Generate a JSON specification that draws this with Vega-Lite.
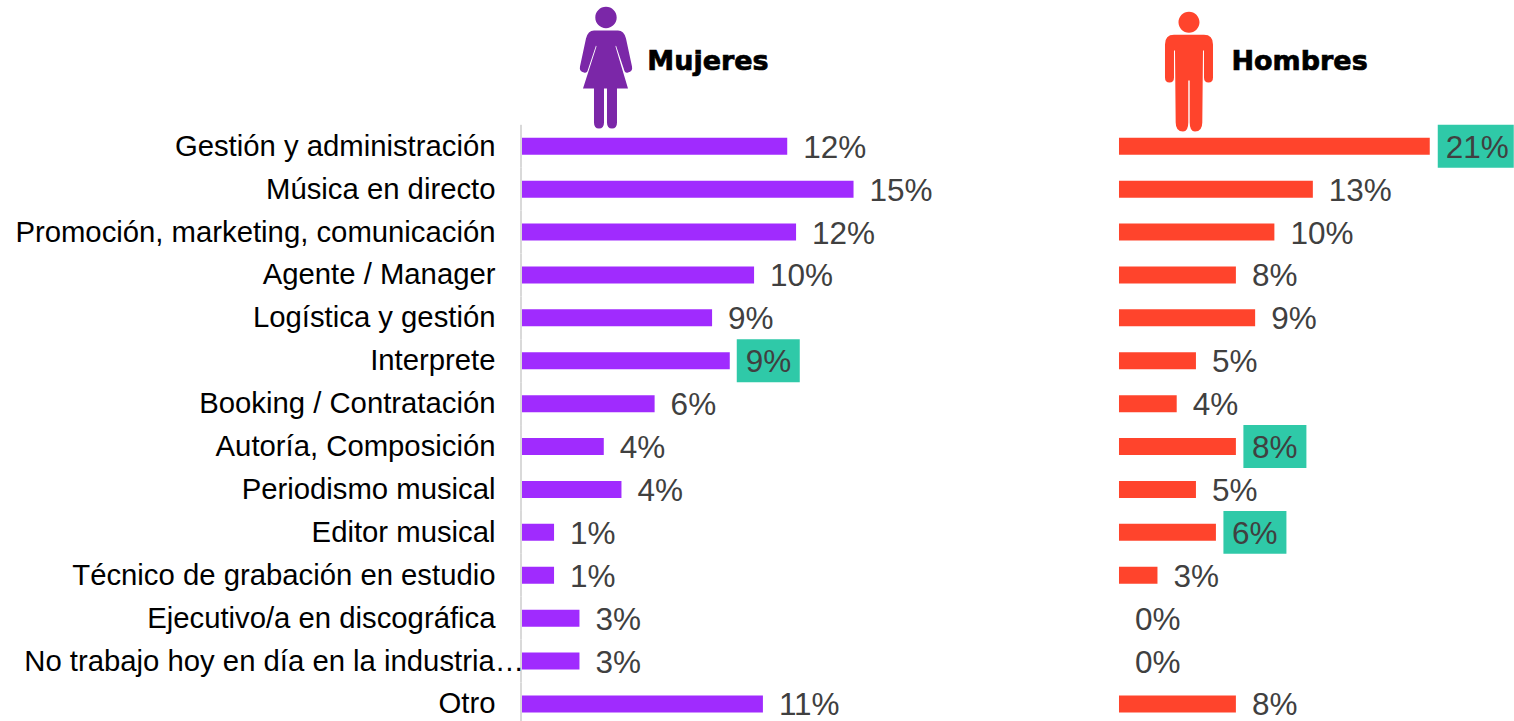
{"$schema":"https://vega.github.io/schema/vega-lite/v6.json","padding":{"left":14,"top":6,"right":0,"bottom":0},"background":"white","bounds":"flush","spacing":44,"config":{"view":{"stroke":null},"font":"Liberation Sans"},"datasets":{"filas":[
{"cat":"encabezado","grupo":"Mujeres","valor":0,"etiqueta":"","destaque":""},
{"cat":"Gestión y administración","grupo":"Mujeres","valor":12.0,"etiqueta":"12%","destaque":""},
{"cat":"Música en directo","grupo":"Mujeres","valor":15.0,"etiqueta":"15%","destaque":""},
{"cat":"Promoción, marketing, comunicación","grupo":"Mujeres","valor":12.4,"etiqueta":"12%","destaque":""},
{"cat":"Agente / Manager","grupo":"Mujeres","valor":10.5,"etiqueta":"10%","destaque":""},
{"cat":"Logística y gestión","grupo":"Mujeres","valor":8.6,"etiqueta":"9%","destaque":""},
{"cat":"Interprete","grupo":"Mujeres","valor":9.4,"etiqueta":"9%","destaque":"si"},
{"cat":"Booking / Contratación","grupo":"Mujeres","valor":6.0,"etiqueta":"6%","destaque":""},
{"cat":"Autoría, Composición","grupo":"Mujeres","valor":3.7,"etiqueta":"4%","destaque":""},
{"cat":"Periodismo musical","grupo":"Mujeres","valor":4.5,"etiqueta":"4%","destaque":""},
{"cat":"Editor musical","grupo":"Mujeres","valor":1.45,"etiqueta":"1%","destaque":""},
{"cat":"Técnico de grabación en estudio","grupo":"Mujeres","valor":1.45,"etiqueta":"1%","destaque":""},
{"cat":"Ejecutivo/a en discográfica","grupo":"Mujeres","valor":2.6,"etiqueta":"3%","destaque":""},
{"cat":"No trabajo hoy en día en la industria…","grupo":"Mujeres","valor":2.6,"etiqueta":"3%","destaque":""},
{"cat":"Otro","grupo":"Mujeres","valor":10.9,"etiqueta":"11%","destaque":""},
{"cat":"encabezado","grupo":"Hombres","valor":0,"etiqueta":"","destaque":""},
{"cat":"Gestión y administración","grupo":"Hombres","valor":21.0,"etiqueta":"21%","destaque":"ancho"},
{"cat":"Música en directo","grupo":"Hombres","valor":13.1,"etiqueta":"13%","destaque":""},
{"cat":"Promoción, marketing, comunicación","grupo":"Hombres","valor":10.5,"etiqueta":"10%","destaque":""},
{"cat":"Agente / Manager","grupo":"Hombres","valor":7.9,"etiqueta":"8%","destaque":""},
{"cat":"Logística y gestión","grupo":"Hombres","valor":9.2,"etiqueta":"9%","destaque":""},
{"cat":"Interprete","grupo":"Hombres","valor":5.2,"etiqueta":"5%","destaque":""},
{"cat":"Booking / Contratación","grupo":"Hombres","valor":3.9,"etiqueta":"4%","destaque":""},
{"cat":"Autoría, Composición","grupo":"Hombres","valor":7.9,"etiqueta":"8%","destaque":"si"},
{"cat":"Periodismo musical","grupo":"Hombres","valor":5.2,"etiqueta":"5%","destaque":""},
{"cat":"Editor musical","grupo":"Hombres","valor":6.55,"etiqueta":"6%","destaque":"si"},
{"cat":"Técnico de grabación en estudio","grupo":"Hombres","valor":2.6,"etiqueta":"3%","destaque":""},
{"cat":"Ejecutivo/a en discográfica","grupo":"Hombres","valor":0,"etiqueta":"0%","destaque":""},
{"cat":"No trabajo hoy en día en la industria…","grupo":"Hombres","valor":0,"etiqueta":"0%","destaque":""},
{"cat":"Otro","grupo":"Hombres","valor":7.9,"etiqueta":"8%","destaque":""}
]},
"hconcat":[
{"width":553,"height":686.4,"data":{"name":"filas"},"transform":[{"filter":"datum.grupo==='Mujeres'"}],
"encoding":{"y":{"field":"cat","type":"nominal","sort":null,"title":null,"scale":{"domain":["encabezado","encabezado2","Gestión y administración","Música en directo","Promoción, marketing, comunicación","Agente / Manager","Logística y gestión","Interprete","Booking / Contratación","Autoría, Composición","Periodismo musical","Editor musical","Técnico de grabación en estudio","Ejecutivo/a en discográfica","No trabajo hoy en día en la industria…","Otro"],"paddingInner":0,"paddingOuter":0},"axis":{"values":["Gestión y administración","Música en directo","Promoción, marketing, comunicación","Agente / Manager","Logística y gestión","Interprete","Booking / Contratación","Autoría, Composición","Periodismo musical","Editor musical","Técnico de grabación en estudio","Ejecutivo/a en discográfica","Otro"],"domain":false,"ticks":false,"grid":false,"labelFontSize":29.3,"labelColor":"#000000","labelPadding":27,"labelOffset":0.5,"labelLimit":600,"labelFont":"Liberation Sans"}},
"x":{"field":"valor","type":"quantitative","title":null,"axis":null,"scale":{"domain":[0,25.02],"nice":false}}},
"layer":[
{"transform":[{"filter":"datum.cat!=='encabezado'"}],"mark":{"type":"rect","fill":"#D9D9D9","xOffset":-2,"x2Offset":0},"encoding":{"x":{"datum":0,"type":"quantitative"},"x2":{"datum":0}}},
{"transform":[{"filter":"datum.cat!=='encabezado'"}],"mark":{"type":"bar","size":17,"color":"#A02BFE"}},
{"transform":[{"filter":"datum.destaque==='si'"}],"mark":{"type":"rect","fill":"#2FC9A8","xOffset":7,"x2Offset":70},"encoding":{"x2":{"field":"valor"}}},
{"transform":[{"filter":"datum.cat!=='encabezado'"}],"mark":{"type":"text","align":"left","baseline":"middle","dx":16,"dy":2.5,"fontSize":31.5,"color":"#404040"},"encoding":{"text":{"field":"etiqueta"}}},
{"transform":[{"filter":"datum.cat==='No trabajo hoy en día en la industria…'"}],"mark":{"type":"text","align":"right","baseline":"middle","dx":2,"dy":0.5,"fontSize":29.3,"color":"#000000"},"encoding":{"x":{"datum":0,"type":"quantitative"},"text":{"field":"cat"}}},
{"transform":[{"filter":"datum.cat==='encabezado'"}],"mark":{"type":"point","filled":true,"opacity":1,"size":40000,"color":"#7B27A8","shape":"M-.107,-.43a.107,.107 0 1,0 .214,0a.107,.107 0 1,0 -.214,0ZM-.12,-.30L.12,-.30Q.18,-.30 .20,-.22L.26,.06Q.27,.11 .22,.12Q.19,.13 .18,.09L.10,-.15L.095,-.14L.22,.28L.11,.28L.11,.62Q.11,.68 .06,.68Q.01,.68 .01,.62L.01,.28L-.02,.28L-.02,.62Q-.02,.68 -.07,.68Q-.12,.68 -.12,.62L-.12,.28L-.23,.28L-.095,-.14L-.10,-.15L-.18,.09Q-.19,.13 -.22,.12Q-.27,.11 -.26,.06L-.20,-.22Q-.18,-.30 -.12,-.30Z"},"encoding":{"x":{"datum":3.8,"type":"quantitative"}}},
{"transform":[{"filter":"datum.cat==='encabezado'"}],"mark":{"type":"text","align":"left","baseline":"middle","dy":2,"font":"DejaVu Sans","fontWeight":"bold","fontSize":27,"color":"#000000","stroke":"#000000","strokeWidth":0.7},"encoding":{"x":{"datum":5.67,"type":"quantitative"},"text":{"field":"grupo"}}}
]},
{"width":400,"height":686.4,"data":{"name":"filas"},"transform":[{"filter":"datum.grupo==='Hombres'"}],
"encoding":{"y":{"field":"cat","type":"nominal","sort":null,"title":null,"scale":{"domain":["encabezado","encabezado2","Gestión y administración","Música en directo","Promoción, marketing, comunicación","Agente / Manager","Logística y gestión","Interprete","Booking / Contratación","Autoría, Composición","Periodismo musical","Editor musical","Técnico de grabación en estudio","Ejecutivo/a en discográfica","No trabajo hoy en día en la industria…","Otro"],"paddingInner":0,"paddingOuter":0},"axis":null},
"x":{"field":"valor","type":"quantitative","title":null,"axis":null,"scale":{"domain":[0,27.03],"nice":false}}},
"layer":[
{"transform":[{"filter":"datum.cat!=='encabezado'"}],"mark":{"type":"bar","size":17,"color":"#FF442C"}},
{"transform":[{"filter":"datum.destaque==='si'"}],"mark":{"type":"rect","fill":"#2FC9A8","xOffset":7.5,"x2Offset":70.5},"encoding":{"x2":{"field":"valor"}}},
{"transform":[{"filter":"datum.destaque==='ancho'"}],"mark":{"type":"rect","fill":"#2FC9A8","xOffset":8,"x2Offset":84},"encoding":{"x2":{"field":"valor"}}},
{"transform":[{"filter":"datum.cat!=='encabezado'"}],"mark":{"type":"text","align":"left","baseline":"middle","dx":16,"dy":2.5,"fontSize":31.5,"color":"#404040"},"encoding":{"text":{"field":"etiqueta"}}},
{"transform":[{"filter":"datum.cat==='encabezado'"}],"mark":{"type":"point","filled":true,"opacity":1,"size":40000,"color":"#FF442C","shape":"M-.105,-.383a.105,.105 0 1,0 .21,0a.105,.105 0 1,0 -.21,0ZM-.15,-.257L.15,-.257Q.24,-.257 .24,-.16L.24,.17Q.24,.22 .195,.22Q.15,.22 .15,.17L.15,-.10L.14,-.10L.133,.62Q.133,.71 .06,.71Q.007,.71 .007,.62L.007,.20L-.007,.20L-.007,.62Q-.007,.71 -.06,.71Q-.133,.71 -.133,.62L-.14,-.10L-.15,-.10L-.15,.17Q-.15,.22 -.195,.22Q-.24,.22 -.24,.17L-.24,-.16Q-.24,-.257 -.15,-.257Z"},"encoding":{"x":{"datum":4.73,"type":"quantitative"}}},
{"transform":[{"filter":"datum.cat==='encabezado'"}],"mark":{"type":"text","align":"left","baseline":"middle","dy":2,"font":"DejaVu Sans","fontWeight":"bold","fontSize":27,"color":"#000000","stroke":"#000000","strokeWidth":0.7},"encoding":{"x":{"datum":7.6,"type":"quantitative"},"text":{"field":"grupo"}}}
]}
]}
